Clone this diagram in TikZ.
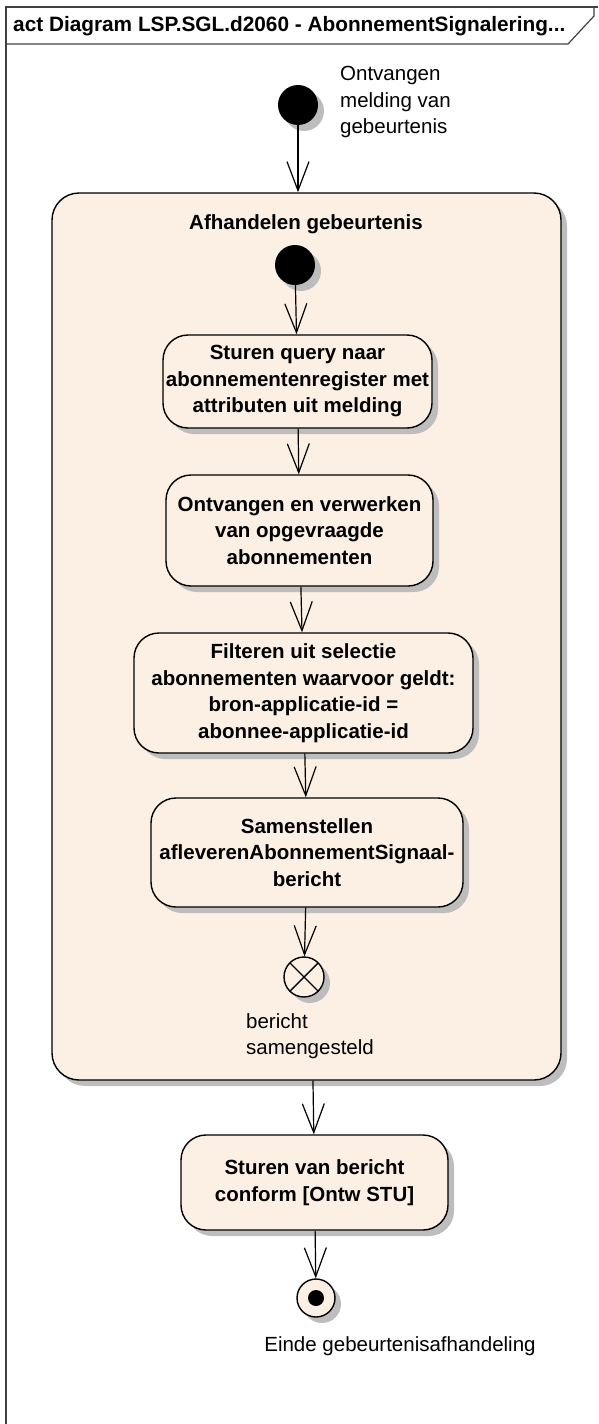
\documentclass[tikz,border=0pt]{standalone}
\usepackage{fontspec}
\setmainfont{Liberation Sans}
\usetikzlibrary{arrows.meta}
\usetikzlibrary{shadows}
\usetikzlibrary{calc}
\definecolor{ActionFill}{HTML}{FBF0E3}
\definecolor{ShadowGray}{HTML}{BDBDBD}
\definecolor{FrameGray}{HTML}{404040}

\begin{document}
\begin{tikzpicture}[x=1pt, y=-1pt,
  every node/.style={font=\fontsize{20.5}{26.5}\selectfont},
  shadowed/.style={drop shadow={shadow xshift=6pt, shadow yshift=-6pt,
      fill=ShadowGray, opacity=1}},
  action/.style={draw, line width=1.4pt, rounded corners=25pt, fill=ActionFill,
    shadowed, align=center, inner sep=0pt,
    font=\bfseries\fontsize{20.5}{26.5}\selectfont},
  startnode/.style={circle, fill=black, minimum size=40pt, inner sep=0pt, shadowed},
  flowfinal/.style={circle, draw, line width=1.4pt, fill=ActionFill,
    minimum size=40pt, inner sep=0pt, shadowed,
    path picture={\draw[line width=1.4pt]
      (path picture bounding box.north west) -- (path picture bounding box.south east)
      (path picture bounding box.north east) -- (path picture bounding box.south west);}},
  finalnode/.style={circle, draw, line width=1.4pt, fill=ActionFill,
    minimum size=38pt, inner sep=0pt, shadowed,
    path picture={\fill[black] (path picture bounding box.center) circle (8pt);}},
  flow/.style={line width=1.2pt, -{Straight Barb[length=29pt, width=22pt]}},
  caption/.style={align=left, inner sep=0pt},
  frameline/.style={draw=FrameGray, line width=1.2pt}]

  \useasboundingbox (0,0) rectangle (598,1424);

  % diagram frame
  \draw[frameline] (6,1424) -- (6,7) -- (598,7);
  \draw[frameline] (6,44) -- (568,44) -- (594,16) -- (594,7);
  \node[anchor=west, inner sep=0pt, font=\bfseries\fontsize{20.8}{26.5}\selectfont]
    (Title) at (13,26) {act Diagram LSP.SGL.d2060 - AbonnementSignalering...};

  % activity
  \node[action, rounded corners=27pt, minimum width=509pt, minimum height=887pt]
    (Handling) at (306.5,636.5) {};
  \node[font=\bfseries\fontsize{20.5}{26.5}\selectfont]
    (HandlingName) at (306,224) {Afhandelen gebeurtenis};

  \node[startnode] (Start) at (298,105) {};
  \node[caption, anchor=west] (StartLabel) at (340,102)
    {Ontvangen\\melding van\\gebeurtenis};

  \node[startnode] (InnerStart) at (295,265) {};
  \node[action, minimum width=269pt, minimum height=93pt] (Query) at (297.5,381.5)
    {Sturen query naar\\abonnementenregister met\\attributen uit melding};
  \node[action, minimum width=267pt, minimum height=111pt] (Receive) at (299.5,530.5)
    {Ontvangen en verwerken\\van opgevraagde\\abonnementen};
  \node[action, minimum width=339pt, minimum height=120pt] (Filter) at (303.5,693)
    {Filteren uit selectie\\abonnementen waarvoor geldt:\\bron-applicatie-id =\\abonnee-applicatie-id};
  \node[action, minimum width=312pt, minimum height=109pt] (Compose) at (307,852.5)
    {Samenstellen\\afleverenAbonnementSignaal-\\bericht};
  \node[flowfinal] (Composed) at (304,977) {};
  \node[caption, anchor=west] (ComposedLabel) at (246,1036)
    {bericht\\samengesteld};

  \node[action, minimum width=267pt, minimum height=95pt] (Deliver) at (314.5,1182.5)
    {Sturen van bericht\\conform [Ontw STU]};
  \node[finalnode] (End) at (316,1298) {};
  \node[caption] (EndLabel) at (400,1346) {Einde gebeurtenisafhandeling};

  % control flows
  \draw[flow] (Start) -- (Start |- Handling.north);
  \draw[flow] (InnerStart) -- (Query);
  \draw[flow] (Query) -- (Receive);
  \draw[flow] (Receive) -- (Filter);
  \draw[flow] (Filter) -- (Compose);
  \draw[flow] (Compose) -- (Composed);
  \draw[flow] (Handling) -- (Deliver);
  \draw[flow] (Deliver) -- (End);
\end{tikzpicture}
\end{document}
